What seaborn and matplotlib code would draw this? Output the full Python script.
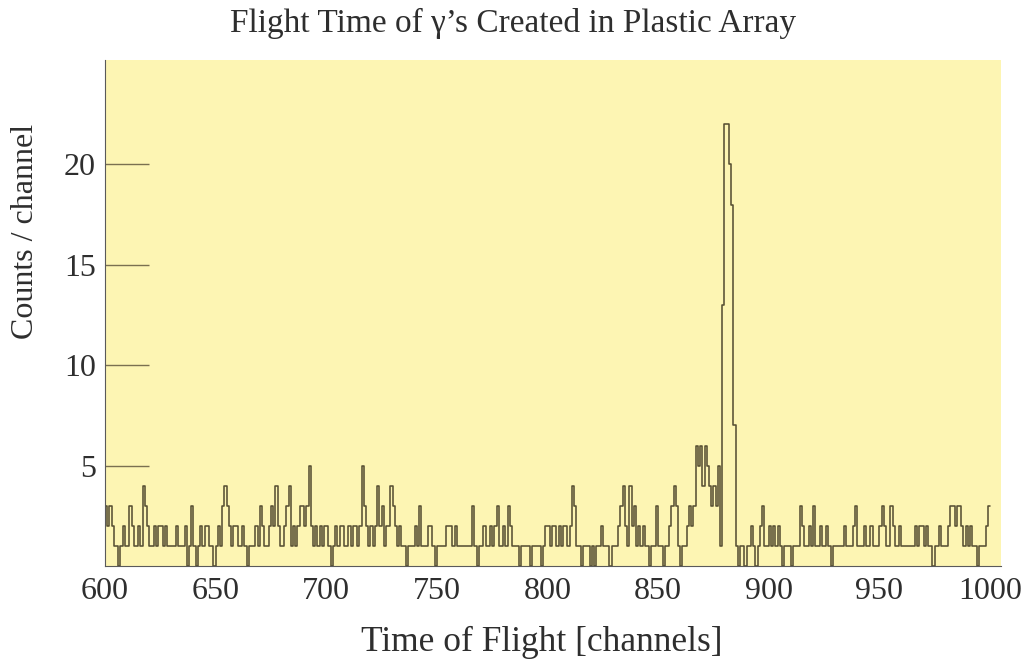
import numpy as np
import pandas as pd
import seaborn as sns
import matplotlib.pyplot as plt

# counts per channel, channels 600..999
first_channel = 600
counts = [
    3, 2, 3, 2, 1, 1, 0, 1, 2, 1, 1, 3, 2, 1, 1, 2, 1, 4, 3, 2,
    1, 1, 2, 1, 2, 2, 1, 2, 1, 1, 1, 1, 2, 1, 1, 1, 2, 0, 1, 3,
    1, 0, 1, 2, 1, 2, 2, 1, 1, 0, 1, 2, 1, 3, 4, 3, 2, 1, 2, 2,
    1, 1, 2, 1, 0, 1, 1, 1, 2, 1, 3, 2, 1, 1, 2, 3, 2, 4, 2, 1,
    1, 2, 3, 4, 1, 2, 1, 2, 3, 3, 2, 3, 5, 2, 1, 2, 1, 2, 1, 2,
    2, 1, 0, 1, 2, 1, 2, 2, 1, 1, 2, 1, 2, 2, 1, 2, 5, 3, 2, 1,
    2, 1, 2, 4, 2, 3, 1, 2, 2, 4, 3, 2, 1, 2, 1, 1, 0, 1, 1, 1,
    2, 1, 3, 1, 1, 1, 2, 2, 1, 0, 1, 1, 1, 1, 2, 2, 2, 1, 2, 1,
    1, 1, 1, 1, 1, 1, 3, 1, 0, 1, 1, 2, 1, 1, 2, 1, 2, 3, 1, 1,
    2, 1, 3, 2, 1, 1, 1, 0, 1, 1, 1, 1, 0, 1, 1, 1, 1, 0, 1, 2,
    2, 1, 2, 2, 1, 2, 1, 2, 2, 1, 2, 4, 3, 1, 1, 0, 1, 1, 1, 0,
    1, 0, 1, 1, 2, 1, 1, 1, 0, 1, 1, 1, 2, 3, 4, 2, 1, 4, 2, 3,
    1, 2, 1, 2, 1, 1, 0, 1, 1, 3, 1, 1, 0, 1, 1, 2, 3, 4, 3, 1,
    0, 1, 1, 2, 3, 2, 3, 6, 5, 6, 4, 6, 5, 4, 3, 4, 3, 5, 1, 13,
    22, 22, 20, 18, 7, 1, 0, 1, 1, 0, 1, 1, 2, 1, 0, 1, 2, 3, 1, 1,
    2, 1, 2, 1, 2, 1, 0, 1, 1, 1, 0, 1, 1, 1, 3, 2, 1, 1, 2, 1,
    3, 1, 1, 2, 1, 1, 2, 1, 0, 1, 1, 1, 1, 1, 2, 1, 1, 1, 2, 3,
    1, 1, 1, 2, 1, 1, 2, 1, 1, 1, 2, 3, 2, 1, 1, 3, 2, 1, 1, 2,
    1, 1, 1, 1, 1, 1, 2, 1, 2, 2, 1, 2, 1, 1, 0, 1, 1, 2, 1, 1,
    1, 2, 3, 3, 2, 3, 3, 2, 1, 2, 1, 2, 1, 1, 0, 1, 1, 1, 2, 3,
]
channels = np.arange(first_channel, first_channel + len(counts))
x_ticks = [600, 650, 700, 750, 800, 850, 900, 950, 1000]
y_ticks = [5, 10, 15, 20]

df = pd.DataFrame({'channel': channels, 'counts': counts})

sns.set_style('ticks')
plt.rcParams['font.family'] = ['Liberation Serif', 'DejaVu Serif']
text_color = '#2e2e2e'
line_color = '#585034'

fig = plt.figure(figsize=(10.26, 6.66), dpi=100)
ax = fig.add_axes([105 / 1026, 1 - 566 / 666, 896 / 1026, 506 / 666])
ax.set_facecolor('#fdf5b3')

sns.histplot(data=df, x='channel', weights='counts', binwidth=1, binrange=(600, 1000),
             element='step', fill=False, color=line_color, linewidth=1.15, ax=ax)

ax.set_xlim(600, 1005)
ax.set_ylim(0, 25.2)
ax.set_xticks(x_ticks)
ax.set_yticks(y_ticks)
ax.tick_params(axis='x', length=0, pad=8, labelsize=23, labelcolor=text_color)
ax.tick_params(axis='y', direction='in', length=32, width=1, color='#7a7050',
               pad=6.5, labelsize=23, labelcolor=text_color)
for s in ['top', 'right']:
    ax.spines[s].set_visible(False)
ax.spines['left'].set_color('#5a5a5a')
ax.spines['bottom'].set_color('#5a5a5a')

ax.set_xlabel('Time of Flight [channels]', fontsize=25.5, color=text_color)
ax.xaxis.set_label_coords(0.487, -0.118)
ax.set_ylabel('Counts / channel', fontsize=23, color=text_color)
ax.yaxis.set_label_coords(-0.0725, 0.662)
fig.text(0.5, 1 - 23 / 666, 'Flight Time of \u03b3\u2019s Created in Plastic Array',
         ha='center', va='center', fontsize=24, color=text_color)

fig.savefig('out.png', dpi=100, facecolor='white')
